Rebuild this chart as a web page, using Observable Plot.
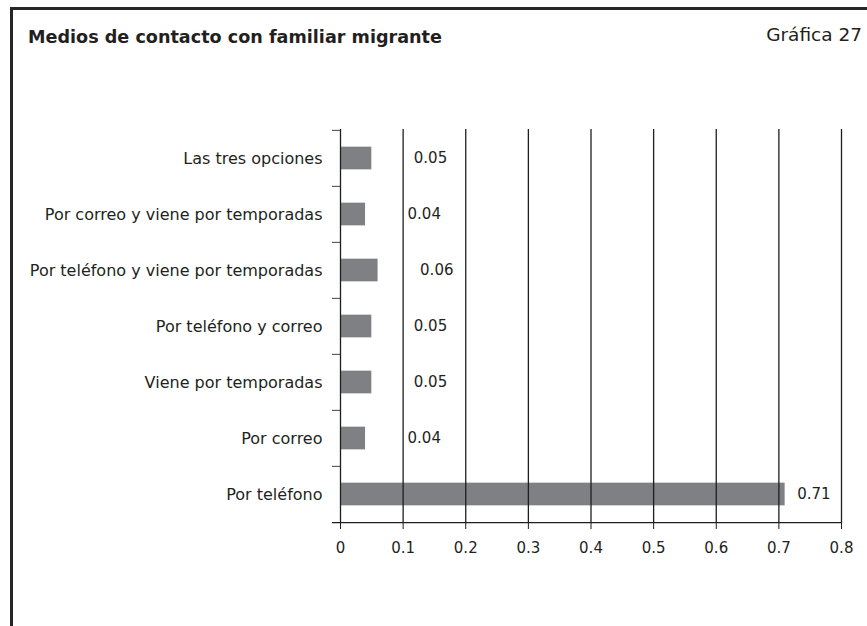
<!DOCTYPE html>
<html><head><meta charset="utf-8">
<script src="https://cdn.jsdelivr.net/npm/d3@7"></script>
<script src="https://cdn.jsdelivr.net/npm/@observablehq/plot@0.6"></script>
<style>
html,body{margin:0;padding:0;width:867px;height:626px;overflow:hidden;background:#fff;font-family:"DejaVu Sans",sans-serif;}
#frame{position:absolute;left:10px;top:7px;width:900px;height:700px;border-top:3px solid #262626;border-left:3px solid #262626;}
#title{position:absolute;left:28px;top:27px;font-weight:bold;font-size:17.6px;color:#231f20;white-space:nowrap;}
#num{position:absolute;right:5px;top:24px;font-size:18.5px;color:#231f20;white-space:nowrap;}
#chart{position:absolute;left:0;top:0;}
</style></head>
<body>
<div id="frame"></div>
<div id="chart"></div>
<div id="title">Medios de contacto con familiar migrante</div>
<div id="num">Gráfica 27</div>
<script>
const categories = [
  "Las tres opciones",
  "Por correo y viene por temporadas",
  "Por teléfono y viene por temporadas",
  "Por teléfono y correo",
  "Viene por temporadas",
  "Por correo",
  "Por teléfono"
];
const values = [0.05, 0.04, 0.06, 0.05, 0.05, 0.04, 0.71];
const xTicks = [0, 0.1, 0.2, 0.3, 0.4, 0.5, 0.6, 0.7, 0.8];
const xTickLabels = ["0", "0.1", "0.2", "0.3", "0.4", "0.5", "0.6", "0.7", "0.8"];

const data = categories.map((c, i) => ({category: c, value: values[i]}));

const W = 867, H = 626;
const mL = 340, mR = 26, mT = 129, mB = 103;
const step = (H - mT - mB) / categories.length;
const barH = 23;
const inset = (step - barH) / 2;
const pxToX = (xTicks[xTicks.length - 1] - xTicks[0]) / (W - mL - mR);
const tickLen = 8 * pxToX;
const dark = "#1e1e1e";
const textCol = "#231f20";
const fs = 15;

const chart = Plot.plot({
  width: W,
  height: H,
  marginLeft: mL,
  marginRight: mR,
  marginTop: mT,
  marginBottom: mB,
  style: {background: "transparent", fontFamily: "'DejaVu Sans', sans-serif", color: textCol},
  x: {domain: [0, 0.8]},
  y: {domain: categories, padding: 0},
  marks: [
    Plot.barX(data, {x: "value", y: "category", fill: "#7f8083", insetTop: inset, insetBottom: inset}),
    Plot.ruleX(xTicks.slice(1), {stroke: dark, strokeWidth: 1.3}),
    Plot.ruleX([0], {stroke: dark, strokeWidth: 1.3}),
    // band boundary ticks on the category axis
    Plot.ruleY(categories, {y: d => d, x1: -tickLen, x2: 0, dy: -step / 2, stroke: "#444", strokeWidth: 1}),
    // bottom axis line
    Plot.ruleY(categories.slice(-1), {y: d => d, x1: -tickLen, x2: 0.8, dy: step / 2, stroke: dark, strokeWidth: 1.3}),
    Plot.axisY({tickSize: 0, tickPadding: 18, fontSize: 16, label: null, fill: textCol}),
    Plot.axisX({ticks: xTicks, tickFormat: (d, i) => xTickLabels[i], tickSize: 6, tickPadding: 13, fontSize: fs, label: null, stroke: dark, fill: textCol}),
    Plot.text(data.filter(d => d.value < 0.5), {x: "value", y: "category", text: d => d.value.toFixed(2), textAnchor: "start", dx: 42, fontSize: fs, fill: textCol}),
    Plot.text(data.filter(d => d.value >= 0.5), {x: "value", y: "category", text: d => d.value.toFixed(2), textAnchor: "start", dx: 12, fontSize: fs, fill: textCol})
  ]
});
document.getElementById("chart").appendChild(chart);
</script>
</body></html>
